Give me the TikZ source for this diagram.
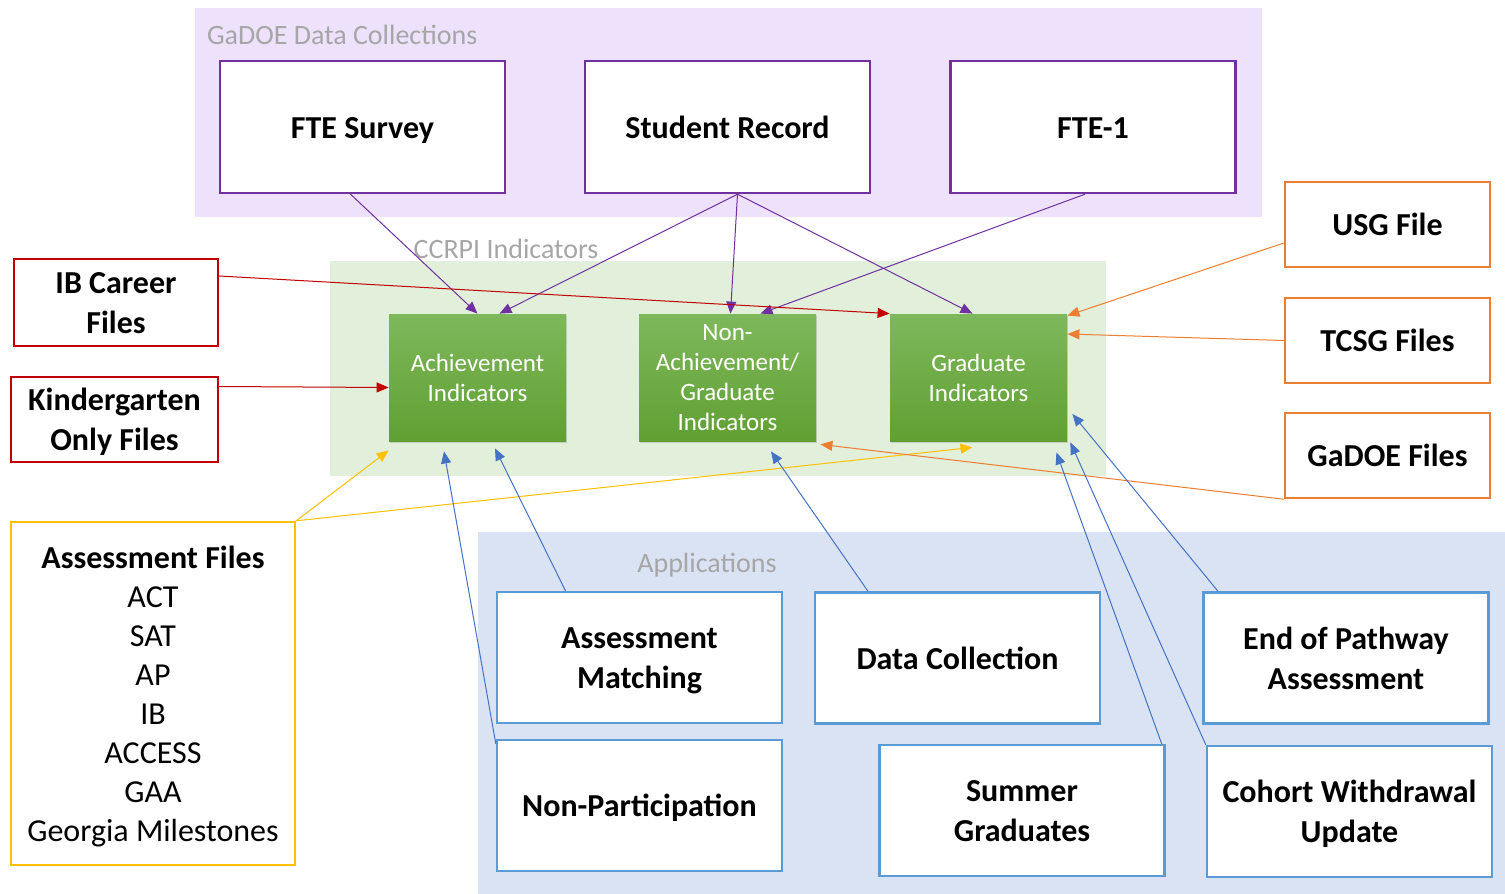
\documentclass[tikz,border=0pt]{standalone}
\usepackage{fontspec}
\setmainfont{Carlito}
\usetikzlibrary{arrows.meta,calc,shadows}
\definecolor{collbg}{HTML}{EEE1FC}
\definecolor{ccrpibg}{HTML}{E2EFDA}
\definecolor{appbg}{HTML}{DAE3F3}
\definecolor{collline}{HTML}{7030A0}
\definecolor{appline}{HTML}{5B9BD5}
\definecolor{bluearrow}{HTML}{4472C4}
\definecolor{redline}{HTML}{C00000}
\definecolor{orangeline}{HTML}{ED7D31}
\definecolor{yellowline}{HTML}{FFC000}
\definecolor{greentop}{HTML}{7EB85C}
\definecolor{greenbot}{HTML}{60A032}
\definecolor{labelgray}{HTML}{A6A6A6}
\begin{document}
\begin{tikzpicture}[x=0.5pt,y=-0.5pt,
    >={Triangle[length=6pt,width=5pt]},
    bigtext/.style={font=\fontsize{16}{20}\selectfont\bfseries,align=center,text height=11.6pt,text depth=0.3pt},
    twoline/.style={text height=31.6pt},
    srcbox/.style={bigtext,draw=#1,line width=1.2pt,fill=white},
    collbox/.style={srcbox=collline,minimum width=142.5pt,minimum height=66pt},
    appbox/.style={srcbox=appline,minimum width=142.5pt,minimum height=65.5pt},
    filebox/.style={srcbox=#1,minimum width=102.5pt,minimum height=42.5pt},
    indbox/.style={top color=greentop,bottom color=greenbot,minimum width=88.5pt,minimum height=63.5pt,
        text=white,align=center,font=\fontsize{12.5}{15}\selectfont,
        drop shadow={opacity=0.3,shadow xshift=0.6pt,shadow yshift=-1.2pt}},
    grouplabel/.style={text=labelgray,font=\fontsize{14}{16}\selectfont},
    conn/.style={->,line width=0.5pt,draw=#1}]
    \useasboundingbox (0,0) rectangle (1505,894);
    % group backgrounds
    \fill[collbg] (195,8) rectangle (1262,217);
    \fill[ccrpibg] (330,261) rectangle (1106,476);
    \fill[appbg] (478,532) rectangle (1505,894);
    \node[grouplabel,anchor=west] (collab) at (200,35) {GaDOE Data Collections};
    \node[grouplabel] (ccrpilab) at (506,249) {CCRPI Indicators};
    \node[grouplabel] (applab) at (707,565) {Applications};
    % data collections
    \node[collbox] (fte) at (362.5,127) {FTE Survey};
    \node[collbox] (srec) at (727.5,127) {Student Record};
    \node[collbox] (fteone) at (1093,127) {FTE-1};
    % indicators
    \node[indbox] (ach) at (477.5,377.5) {Achievement\\Indicators};
    \node[indbox] (nonach) at (727.5,377.5) {Non-\\Achievement/\\Graduate\\Indicators};
    \node[indbox] (grad) at (978.5,377.5) {Graduate\\Indicators};
    % file sources
    \node[filebox=redline,twoline,minimum width=102pt,minimum height=43.5pt] (ib) at (116,302.5) {IB Career\\Files};
    \node[filebox=redline,twoline,minimum width=103.5pt] (kg) at (114.5,419.5) {Kindergarten\\Only Files};
    \node[srcbox=yellowline,minimum width=142pt,minimum height=171.5pt,font=\fontsize{16}{19.5}\selectfont,text height=148.1pt] (assess) at (153,693.5)
        {\textbf{Assessment Files}\\ACT\\SAT\\AP\\IB\\ACCESS\\GAA\\Georgia Milestones};
    \node[filebox=orangeline] (usg) at (1387.5,224.5) {USG File};
    \node[filebox=orangeline] (tcsg) at (1387.5,340.5) {TCSG Files};
    \node[filebox=orangeline] (gadoe) at (1387.5,455.5) {GaDOE Files};
    % applications
    \node[appbox,twoline] (amatch) at (639.5,657.5) {Assessment\\Matching};
    \node[appbox] (nonpart) at (639.5,805.5) {Non-Participation};
    \node[appbox] (dcoll) at (957.5,658) {Data Collection};
    \node[appbox,twoline] (sumgrad) at (1022,810.5) {Summer\\Graduates};
    \node[appbox,twoline] (eop) at (1346,658) {End of Pathway\\Assessment};
    \node[appbox,twoline] (cohort) at (1349.5,811.5) {Cohort Withdrawal\\Update};
    % collections -> indicators
    \draw[conn=collline] ($(fte.south)+(-12,0)$) -- (ach.north);
    \draw[conn=collline] ($(srec.south)+(10,0)$) -- ($(ach.north)+(22,0)$);
    \draw[conn=collline] ($(srec.south)+(10,0)$) -- ($(nonach.north)+(3,0)$);
    \draw[conn=collline] ($(srec.south)+(10,0)$) -- ($(grad.north)+(-6,0)$);
    \draw[conn=collline] ($(fteone.south)+(-8,0)$) -- ($(nonach.north)+(33,0)$);
    % red files
    \draw[conn=redline] ($(ib.east)+(0,-26.5)$) -- (grad.north west);
    \draw[conn=redline] ($(kg.east)+(0,-33)$) -- ($(ach.west)+(0,10)$);
    % assessment files
    \draw[conn=yellowline] (assess.north east) -- ($(ach.south west)+(0,9)$);
    \draw[conn=yellowline] (assess.north east) -- ($(grad.south)+(-6,6)$);
    % orange files
    \draw[conn=orangeline] ($(usg.west)+(0,18.5)$) -- ($(grad.north east)+(0,2)$);
    \draw[conn=orangeline] (tcsg.west) -- ($(grad.east)+(0,-43.5)$);
    \draw[conn=orangeline] (gadoe.south west) -- ($(nonach.south east)+(4,3)$);
    % applications -> indicators
    \draw[conn=bluearrow] ($(nonpart.north west)+(0,5)$) -- ($(ach.south)+(-33.5,10)$);
    \draw[conn=bluearrow] ($(amatch.north)+(-74,0)$) -- ($(ach.south)+(17.5,7)$);
    \draw[conn=bluearrow] ($(dcoll.north)+(-89.5,0)$) -- ($(nonach.south)+(43.5,10)$);
    \draw[conn=bluearrow] ($(sumgrad.north east)+(-4,0)$) -- ($(grad.south east)+(-11,11)$);
    \draw[conn=bluearrow] (cohort.north west) -- ($(grad.south east)+(3,1)$);
    \draw[conn=bluearrow] ($(eop.north)+(-128,0)$) -- ($(grad.east)+(5,36.5)$);
\end{tikzpicture}
\end{document}
